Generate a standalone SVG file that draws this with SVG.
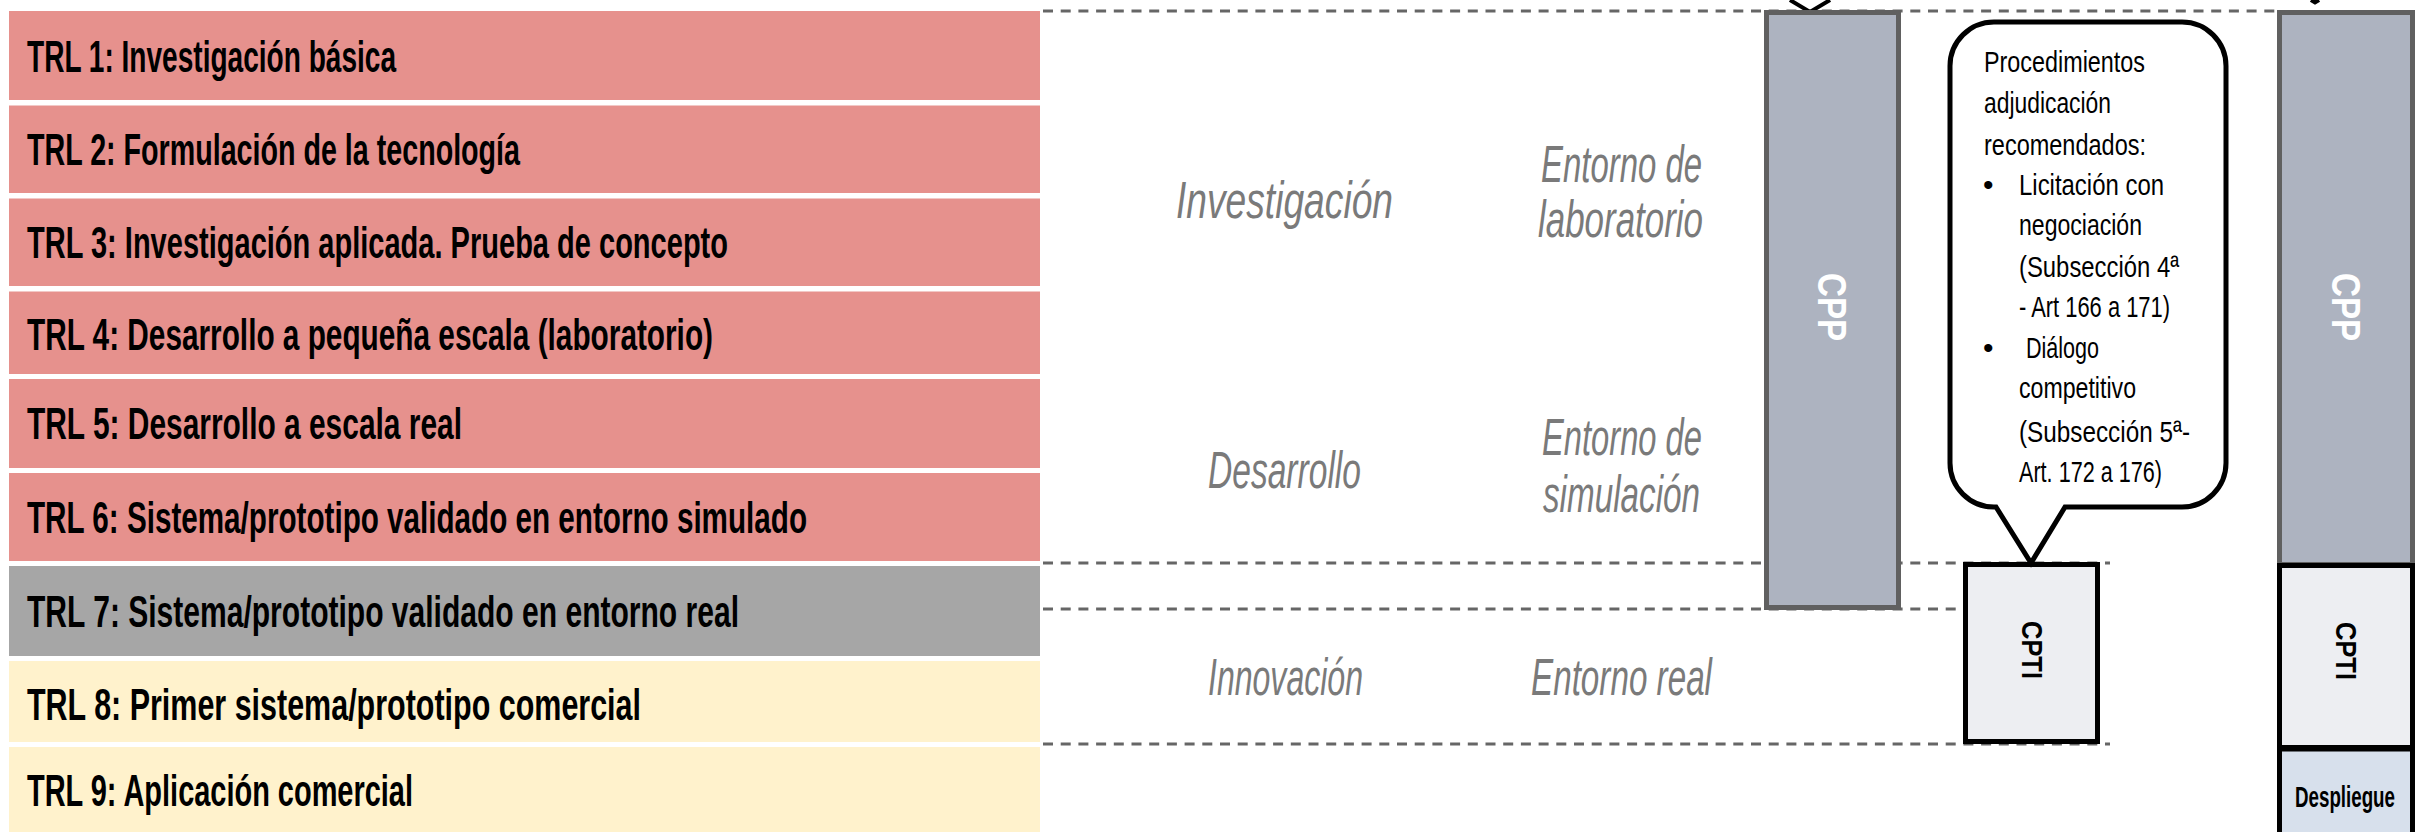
<svg xmlns="http://www.w3.org/2000/svg" width="2427" height="832" viewBox="0 0 2427 832">
<style>
.row-r{fill:#e6918d}
.row-g{fill:#a6a6a6}
.row-y{fill:#fff2cc}
.lbl{font-family:"Liberation Sans Narrow","Liberation Sans",sans-serif;font-weight:bold;font-size:44px;fill:#000}
.mid{font-family:"Liberation Sans Narrow","Liberation Sans",sans-serif;font-style:italic;font-size:52px;fill:#7a7a7a}
.dash{stroke:#666;stroke-width:3;stroke-dasharray:10 7.7;fill:none}
.cpp{fill:#adb3c0;stroke:#606060;stroke-width:5}
.cpti{fill:#edeef2;stroke:#000;stroke-width:5}
.desp{fill:#d7e0ec;stroke:#000;stroke-width:5}
.co{font-family:"Liberation Sans Narrow","Liberation Sans",sans-serif;font-size:30px;fill:#000}
.vt{font-family:"Liberation Sans Narrow","Liberation Sans",sans-serif;font-weight:bold;text-anchor:middle}
.tail{fill:none;stroke:#000;stroke-width:4;stroke-linejoin:miter}
</style>
<rect x="0" y="0" width="2427" height="832" fill="#fff"/>

<g id="trl-rows">
  <g id="trl1"><rect class="row-r" x="9" y="11" width="1031" height="89"/><text class="lbl" x="27" y="72" textLength="369" lengthAdjust="spacingAndGlyphs">TRL 1: Investigación básica</text></g>
  <g id="trl2"><rect class="row-r" x="9" y="105.5" width="1031" height="87.5"/><text class="lbl" x="27" y="165" textLength="493" lengthAdjust="spacingAndGlyphs">TRL 2: Formulación de la tecnología</text></g>
  <g id="trl3"><rect class="row-r" x="9" y="198.5" width="1031" height="87.5"/><text class="lbl" x="27" y="258" textLength="701" lengthAdjust="spacingAndGlyphs">TRL 3: Investigación aplicada. Prueba de concepto</text></g>
  <g id="trl4"><rect class="row-r" x="9" y="291.5" width="1031" height="82.5"/><text class="lbl" x="27" y="350" textLength="686" lengthAdjust="spacingAndGlyphs">TRL 4: Desarrollo a pequeña escala (laboratorio)</text></g>
  <g id="trl5"><rect class="row-r" x="9" y="379" width="1031" height="89"/><text class="lbl" x="27" y="439" textLength="435" lengthAdjust="spacingAndGlyphs">TRL 5: Desarrollo a escala real</text></g>
  <g id="trl6"><rect class="row-r" x="9" y="473" width="1031" height="88"/><text class="lbl" x="27" y="533" textLength="780" lengthAdjust="spacingAndGlyphs">TRL 6: Sistema/prototipo validado en entorno simulado</text></g>
  <g id="trl7"><rect class="row-g" x="9" y="566" width="1031" height="90"/><text class="lbl" x="27" y="627" textLength="712" lengthAdjust="spacingAndGlyphs">TRL 7: Sistema/prototipo validado en entorno real</text></g>
  <g id="trl8"><rect class="row-y" x="9" y="661" width="1031" height="81"/><text class="lbl" x="27" y="720" textLength="614" lengthAdjust="spacingAndGlyphs">TRL 8: Primer sistema/prototipo comercial</text></g>
  <g id="trl9"><rect class="row-y" x="9" y="747" width="1031" height="85"/><text class="lbl" x="27" y="806" textLength="386" lengthAdjust="spacingAndGlyphs">TRL 9: Aplicación comercial</text></g>
</g>

<g id="connectors">
  <line class="dash" x1="1043" y1="11" x2="2277" y2="11"/>
  <line class="dash" x1="1043" y1="563" x2="2110" y2="563"/>
  <line class="dash" x1="1043" y1="609" x2="1963" y2="609"/>
  <line class="dash" x1="1043" y1="744" x2="2110" y2="744"/>
</g>

<g id="phase-labels">
  <g id="investigacion"><text class="mid" x="1176" y="218" textLength="217" lengthAdjust="spacingAndGlyphs">Investigación</text></g>
  <g id="entorno-laboratorio">
    <text class="mid" x="1541" y="182" textLength="161" lengthAdjust="spacingAndGlyphs">Entorno de</text>
    <text class="mid" x="1538" y="237" textLength="165" lengthAdjust="spacingAndGlyphs">laboratorio</text>
  </g>
  <g id="desarrollo"><text class="mid" x="1208" y="488" textLength="153" lengthAdjust="spacingAndGlyphs">Desarrollo</text></g>
  <g id="entorno-simulacion">
    <text class="mid" x="1542" y="455" textLength="160" lengthAdjust="spacingAndGlyphs">Entorno de</text>
    <text class="mid" x="1543" y="512" textLength="157" lengthAdjust="spacingAndGlyphs">simulación</text>
  </g>
  <g id="innovacion"><text class="mid" x="1208" y="695" textLength="155" lengthAdjust="spacingAndGlyphs">Innovación</text></g>
  <g id="entorno-real"><text class="mid" x="1531" y="695" textLength="181" lengthAdjust="spacingAndGlyphs">Entorno real</text></g>
</g>

<g id="partial-callouts">
  <path class="tail" d="M1790,0 L1810,12 L1830,0"/>
  <path class="tail" d="M2311,0 L2315,2.5 L2319,0" stroke-width="3"/>
</g>

<g id="cpp-1">
  <rect class="cpp" x="1766.5" y="12.5" width="132" height="595"/>
  <text class="vt" transform="translate(1832,307) rotate(90)" x="0" y="14" font-size="40" fill="#fff" textLength="68" lengthAdjust="spacingAndGlyphs">CPP</text>
</g>

<g id="cpti-1">
  <rect class="cpti" x="1965.5" y="564.5" width="132" height="177"/>
  <text class="vt" transform="translate(2033,650) rotate(90)" x="0" y="11" font-size="30" fill="#000" textLength="58" lengthAdjust="spacingAndGlyphs">CPTI</text>
</g>

<g id="callout">
  <path d="M1994,22 H2182 A44,44 0 0 1 2226,66 V463 A44,44 0 0 1 2182,507 H2065 L2031,563 L1996,507 H1994 A44,44 0 0 1 1950,463 V66 A44,44 0 0 1 1994,22 Z" fill="#fff" stroke="#000" stroke-width="5" stroke-linejoin="miter"/>
  <text class="co" x="1984" y="72" textLength="161" lengthAdjust="spacingAndGlyphs">Procedimientos</text>
  <text class="co" x="1984" y="113" textLength="127" lengthAdjust="spacingAndGlyphs">adjudicación</text>
  <text class="co" x="1984" y="155" textLength="162" lengthAdjust="spacingAndGlyphs">recomendados:</text>
  <text class="co" x="1983" y="195">•</text>
  <text class="co" x="2019" y="195" textLength="145" lengthAdjust="spacingAndGlyphs">Licitación con</text>
  <text class="co" x="2019" y="235" textLength="123" lengthAdjust="spacingAndGlyphs">negociación</text>
  <text class="co" x="2019" y="277" textLength="160" lengthAdjust="spacingAndGlyphs">(Subsección 4ª</text>
  <text class="co" x="2019" y="317" textLength="151" lengthAdjust="spacingAndGlyphs">- Art 166 a 171)</text>
  <text class="co" x="1983" y="358">•</text>
  <text class="co" x="2026" y="358" textLength="73" lengthAdjust="spacingAndGlyphs">Diálogo</text>
  <text class="co" x="2019" y="398" textLength="117" lengthAdjust="spacingAndGlyphs">competitivo</text>
  <text class="co" x="2019" y="442" textLength="171" lengthAdjust="spacingAndGlyphs">(Subsección 5ª-</text>
  <text class="co" x="2019" y="482" textLength="143" lengthAdjust="spacingAndGlyphs">Art. 172 a 176)</text>
</g>

<g id="cpp-2">
  <rect class="cpp" x="2279.5" y="12.5" width="133" height="552"/>
  <text class="vt" transform="translate(2346,307) rotate(90)" x="0" y="14" font-size="40" fill="#fff" textLength="68" lengthAdjust="spacingAndGlyphs">CPP</text>
</g>

<g id="cpti-2">
  <rect class="cpti" x="2279.5" y="565.5" width="133" height="182"/>
  <text class="vt" transform="translate(2347,651) rotate(90)" x="0" y="11" font-size="30" fill="#000" textLength="58" lengthAdjust="spacingAndGlyphs">CPTI</text>
</g>

<g id="despliegue">
  <rect class="desp" x="2279.5" y="749" width="133" height="100"/>
  <text x="2295" y="807" font-family="Liberation Sans Narrow, Liberation Sans, sans-serif" font-weight="bold" font-size="29" fill="#000" textLength="100" lengthAdjust="spacingAndGlyphs">Despliegue</text>
</g>
</svg>
